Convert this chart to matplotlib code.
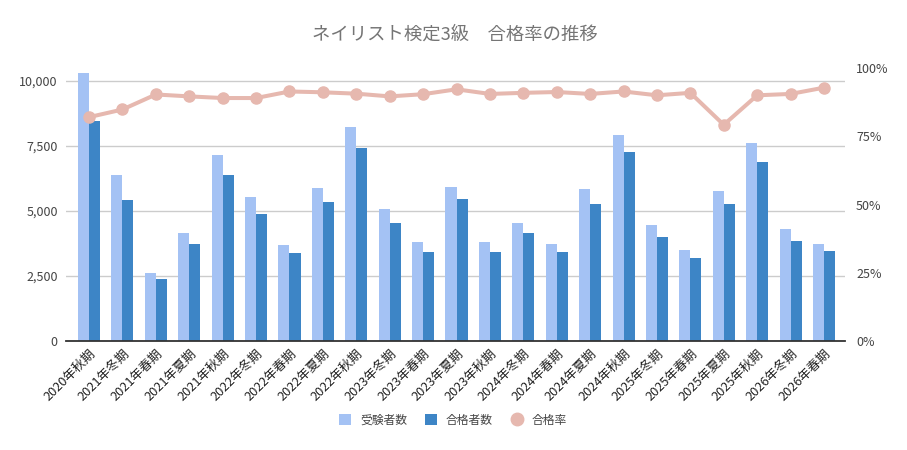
import matplotlib
matplotlib.use("Agg")
import matplotlib.pyplot as plt
from matplotlib.patches import Patch
from matplotlib.lines import Line2D
from matplotlib.ticker import FuncFormatter
import numpy as np

plt.rcParams['font.family'] = ['Noto Sans CJK JP', 'DejaVu Sans']

terms = ['2020年秋期', '2021年冬期', '2021年春期', '2021年夏期', '2021年秋期',
         '2022年冬期', '2022年春期', '2022年夏期', '2022年秋期', '2023年冬期',
         '2023年春期', '2023年夏期', '2023年秋期', '2024年冬期', '2024年春期',
         '2024年夏期', '2024年秋期', '2025年冬期', '2025年春期', '2025年夏期',
         '2025年秋期', '2026年冬期', '2026年春期']
examinees = [10300, 6390, 2630, 4160, 7150, 5520, 3680, 5900, 8220, 5080,
             3820, 5930, 3820, 4550, 3750, 5850, 7920, 4480, 3510, 5770,
             7620, 4320, 3750]
passed = [8470, 5430, 2380, 3750, 6390, 4890, 3370, 5350, 7420, 4550,
          3440, 5470, 3440, 4140, 3440, 5270, 7270, 4010, 3210, 5270,
          6880, 3860, 3470]
pass_rate = [82.0, 84.8, 90.3, 89.6, 89.0, 89.0, 91.4, 91.1, 90.6, 89.6,
             90.4, 92.2, 90.5, 90.9, 91.2, 90.5, 91.4, 90.0, 90.9, 79.2,
             90.0, 90.5, 92.8]

c_light = '#a4c2f4'
c_dark = '#3d85c6'
c_line = '#e6b8af'

fig = plt.figure(figsize=(9.07, 4.5), dpi=100)
ax = fig.add_axes([66/907, 1-341/450, (845-66)/907, (341-68)/450])
x = np.arange(len(terms))
w = 0.33
ax.bar(x - w/2, examinees, w, color=c_light, zorder=2)
ax.bar(x + w/2, passed, w, color=c_dark, zorder=2)
ax.set_xlim(-0.69, len(terms) - 1 + 0.63)
ax.set_ylim(0, 10500)
ax.set_yticks([0, 2500, 5000, 7500, 10000])
ax.yaxis.set_major_formatter(FuncFormatter(lambda v, p: f"{int(v):,}"))
ax.grid(axis='y', color='#cccccc', linewidth=1, zorder=0)
ax.set_axisbelow(True)
for s in ['top', 'right', 'left']:
    ax.spines[s].set_visible(False)
ax.spines['bottom'].set_color('#333333')
ax.spines['bottom'].set_linewidth(1.3)
ax.spines['bottom'].set_zorder(5)
ax.tick_params(axis='both', length=0)
ax.tick_params(axis='y', labelsize=9, labelcolor='#444444', pad=6)
ax.set_xticks(x)
ax.set_xticklabels(terms, rotation=45, ha='right', rotation_mode='anchor',
                   fontsize=9.2, color='#222222')
ax.tick_params(axis='x', pad=4)

ax2 = ax.twinx()
ax2.plot(x, pass_rate, color=c_line, linewidth=2.9, marker='o',
         markersize=8, zorder=3)
ax2.set_ylim(0, 100)
ax2.set_yticks([0, 25, 50, 75, 100])
ax2.yaxis.set_major_formatter(FuncFormatter(lambda v, p: f"{int(v)}%"))
ax2.tick_params(axis='y', length=0, labelsize=9, labelcolor='#444444', pad=8)
for s in ax2.spines.values():
    s.set_visible(False)

fig.text(455/907, 1-35/450, 'ネイリスト検定3級\u3000合格率の推移', ha='center',
         va='center', fontsize=13.2, color='#757575')

handles = [Patch(facecolor=c_light, edgecolor='none', label='受験者数'),
           Patch(facecolor=c_dark, edgecolor='none', label='合格者数'),
           Line2D([], [], color=c_line, marker='o', linestyle='none',
                  markersize=9, label='合格率')]
fig.legend(handles=handles, loc='center', bbox_to_anchor=(453/907, 1-420/450),
           ncol=3, frameon=False, fontsize=8.5, handlelength=1.0,
           handleheight=1.0, columnspacing=1.5, handletextpad=0.8,
           labelcolor='#444444')

fig.savefig('out.png', dpi=100)
